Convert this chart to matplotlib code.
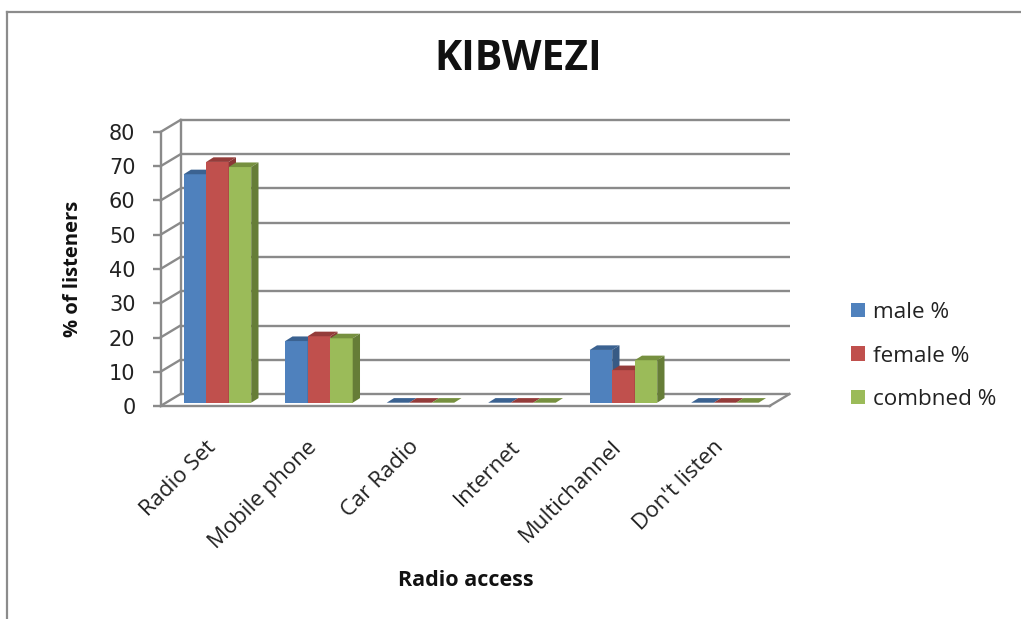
import matplotlib
matplotlib.use("Agg")
import matplotlib.pyplot as plt
from matplotlib.patches import Polygon, Patch
from matplotlib.lines import Line2D
from matplotlib.transforms import ScaledTranslation

categories = ["Radio Set", "Mobile phone", "Car Radio", "Internet", "Multichannel", "Don't listen"]
male = [66.7, 18.0, 0, 0, 15.4, 0]
female = [70.3, 19.4, 0, 0, 9.5, 0]
combined = [68.8, 18.8, 0, 0, 12.4, 0]
series_names = ["male %", "female %", "combned %"]
y_ticks = [0, 10, 20, 30, 40, 50, 60, 70, 80]

plt.rcParams['font.family'] = ['Open Sans', 'DejaVu Sans']
W, H = 1021, 619
fig = plt.figure(figsize=(W / 100, H / 100), dpi=100, facecolor='white')
L, R, T, B = 160.5, 769.5, 132, 406
ax = fig.add_axes([L / W, 1 - B / H, (R - L) / W, (B - T) / H])
ax.set_xlim(-0.5, 5.5)
ax.set_ylim(0, 80)
ax.patch.set_visible(False)

px_x = 6.0 / (R - L)       # category units per pixel
px_y = 80.0 / (B - T)      # value units per pixel
GRID = '#8a8a8a'
lw = 1.7

# depth offsets in data units
wall_dx, wall_dy = 20 * px_x, 12 * px_y
plane_dx, plane_dy = 6.2 * px_x, 3.3 * px_y
bar_dx, bar_dy = 7.3 * px_x, 4.6 * px_y

# back wall gridlines, side-wall slants, floor
for v in y_ticks:
    ax.plot([-0.5 + wall_dx, 5.5 + wall_dx], [v + wall_dy] * 2, color=GRID, lw=lw, zorder=1,
            clip_on=False, solid_capstyle='butt')
    ax.plot([-0.5, -0.5 + wall_dx], [v, v + wall_dy], color=GRID, lw=lw, zorder=1, clip_on=False)
ax.plot([-0.5 + wall_dx] * 2, [wall_dy, 80 + wall_dy], color=GRID, lw=lw, zorder=1, clip_on=False)
ax.plot([5.5, 5.5 + wall_dx], [0, wall_dy], color=GRID, lw=lw, zorder=1, clip_on=False)

# bars with depth faces
width = 0.2217
colors = ['#4F81BD', '#C0504D', '#9BBB59']
tops = ['#3B6291', '#943C3A', '#76903F']
sides = ['#375A85', '#8A3836', '#667D37']
for k, vals in enumerate([male, female, combined]):
    for i, v in enumerate(vals):
        x0 = i + (k - 1.5) * width + plane_dx
        x1 = x0 + width
        y0 = plane_dy
        y1 = v + plane_dy
        z = 3 + k
        ax.bar(x0, v, width, bottom=y0, align='edge', color=colors[k], zorder=z, clip_on=False)
        ax.add_patch(Polygon([(x0, y1), (x1, y1), (x1 + bar_dx, y1 + bar_dy), (x0 + bar_dx, y1 + bar_dy)],
                             closed=True, fc=tops[k], ec='none', zorder=z, clip_on=False))
        ax.add_patch(Polygon([(x1, y0), (x1 + bar_dx, y0 + bar_dy), (x1 + bar_dx, y1 + bar_dy), (x1, y1)],
                             closed=True, fc=sides[k], ec='none', zorder=z, clip_on=False))

for s in ['top', 'right']:
    ax.spines[s].set_visible(False)
for s in ['left', 'bottom']:
    ax.spines[s].set_color(GRID)
    ax.spines[s].set_linewidth(lw)
ax.set_yticks(y_ticks)
ax.tick_params(axis='y', length=6, width=lw, color=GRID, labelsize=15, labelcolor='#222222', pad=12)
for lab in ax.get_yticklabels():
    lab.set_fontfamily('DejaVu Sans')
ax.set_xticks(range(6))
ax.set_xticklabels(categories, rotation=45, ha='right', rotation_mode='anchor', fontsize=16, color='#222222')
ax.tick_params(axis='x', length=0, pad=22)
shift = ScaledTranslation(-6 / 100, 0, fig.dpi_scale_trans)
for lab in ax.get_xticklabels():
    lab.set_transform(lab.get_transform() + shift)

# chart frame
fig.add_artist(Line2D([6.5 / W, 6.5 / W], [0, 1 - 11.5 / H], color='#8c8c8c', lw=1.6))
fig.add_artist(Line2D([6.5 / W, 1], [1 - 11.5 / H, 1 - 11.5 / H], color='#8c8c8c', lw=1.6))

fig.text(518 / W, 1 - 59.5 / H, "KIBWEZI", ha='center', va='center', fontsize=29.5, fontweight='bold', color='#111111')
fig.text(466 / W, 1 - 581 / H, "Radio access", ha='center', va='center', fontsize=15.5, fontweight='bold', color='#111111')
fig.text(73 / W, 1 - 269 / H, "% of listeners", ha='center', va='center', rotation=90, fontsize=14.5,
         fontweight='bold', color='#111111')

handles = [Patch(fc=c, ec='none', label=n) for c, n in zip(colors, series_names)]
fig.legend(handles=handles, loc='center left', bbox_to_anchor=(851 / W, 1 - 356 / H), frameon=False,
           fontsize=16.2, labelcolor='#222222', handlelength=0.64, handleheight=0.6, handletextpad=0.32,
           labelspacing=0.99, borderpad=0, borderaxespad=0)

fig.savefig('out.png', dpi=100)
